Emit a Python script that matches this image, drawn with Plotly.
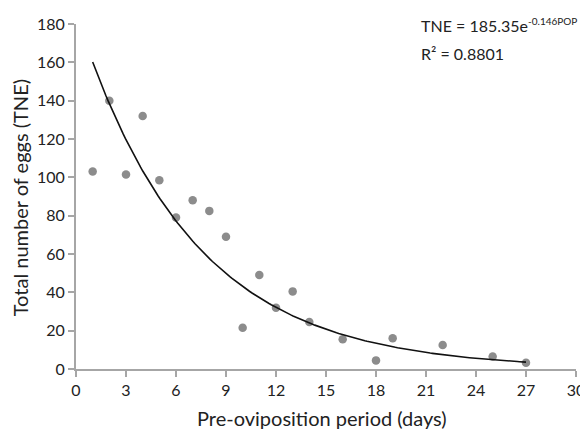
import numpy as np
import plotly.graph_objects as go

# Observed data
pop_days = [1, 2, 3, 4, 5, 6, 7, 8, 9, 10, 11, 12, 13, 14, 16, 18, 19, 22, 25, 27]
tne_eggs = [103, 140, 101.5, 132, 98.5, 79, 88, 82.5, 69, 21.5, 49, 32, 40.5, 24.5, 15.5, 4.5, 16, 12.5, 6.5, 3.3]

# Trendline coefficients (as shown in the chart's equation)
fit_a = 185.35
fit_b = -0.146
fit_range = [1, 27]

x_ticks = [0, 3, 6, 9, 12, 15, 18, 21, 24, 27, 30]
y_ticks = [0, 20, 40, 60, 80, 100, 120, 140, 160, 180]

xs = np.linspace(fit_range[0], fit_range[1], 200)
ys = fit_a * np.exp(fit_b * xs)

# page has an 8px body margin; figure sized so it fills the visible window
OFF = 8
W, H = 588 - OFF, 431 - OFF
ML, MR, MT, MB = 76 - OFF, 12, 23.5 - OFF, 62
pw = W - ML - MR
ph = H - MT - MB

def px_x(p):
    return (p - OFF - ML) / pw

def px_y(p):
    return (H - MB - (p - OFF)) / ph

fig = go.Figure()
fig.add_trace(go.Scatter(x=pop_days, y=tne_eggs, mode="markers",
                         marker=dict(color="#8c8c8c", size=8.5), showlegend=False, cliponaxis=False))
fig.add_trace(go.Scatter(x=xs, y=ys, mode="lines",
                         line=dict(color="#111111", width=1.6), showlegend=False))

axis_col = "#a6a6a6"
txt_col = "#222222"
fam = "Lato, Open Sans, sans-serif"
tick_font = dict(family=fam, size=16, color=txt_col)

fig.update_layout(
    width=W, height=H,
    margin=dict(l=ML, r=MR, t=MT, b=MB, autoexpand=False),
    paper_bgcolor="white", plot_bgcolor="white",
    xaxis=dict(range=[0, 30], tickmode="array", tickvals=x_ticks, automargin=False,
               showgrid=False, zeroline=False, showline=True, linecolor=axis_col, linewidth=2,
               ticks="outside", tickcolor=axis_col, ticklen=6, tickwidth=2,
               tickfont=tick_font),
    yaxis=dict(range=[0, 180], tickmode="array", tickvals=y_ticks, automargin=False,
               showgrid=False, zeroline=False, showline=True, linecolor=axis_col, linewidth=2,
               ticks="outside", tickcolor=axis_col, ticklen=6, tickwidth=2,
               tickfont=tick_font),
    annotations=[
        dict(text="Pre-oviposition period (days)", x=px_x(322), y=px_y(418),
             xref="paper", yref="paper", showarrow=False, xanchor="center", yanchor="middle",
             font=dict(family=fam, size=20, color=txt_col)),
        dict(text="Total number of eggs (TNE)", x=px_x(20), y=px_y(198), textangle=-90,
             xref="paper", yref="paper", showarrow=False, xanchor="center", yanchor="middle",
             font=dict(family=fam, size=20, color=txt_col)),
        dict(text="TNE = 185.35e<sup><span style='font-size:10px'>-0.146POP</span></sup>",
             x=px_x(419), y=px_y(12), xref="paper", yref="paper",
             showarrow=False, xanchor="left", yanchor="top",
             font=dict(family=fam, size=16, color=txt_col)),
        dict(text="R² = 0.8801", x=px_x(419), y=px_y(42), xref="paper", yref="paper",
             showarrow=False, xanchor="left", yanchor="top",
             font=dict(family=fam, size=16, color=txt_col)),
    ],
)

fig.write_html("out.html")
